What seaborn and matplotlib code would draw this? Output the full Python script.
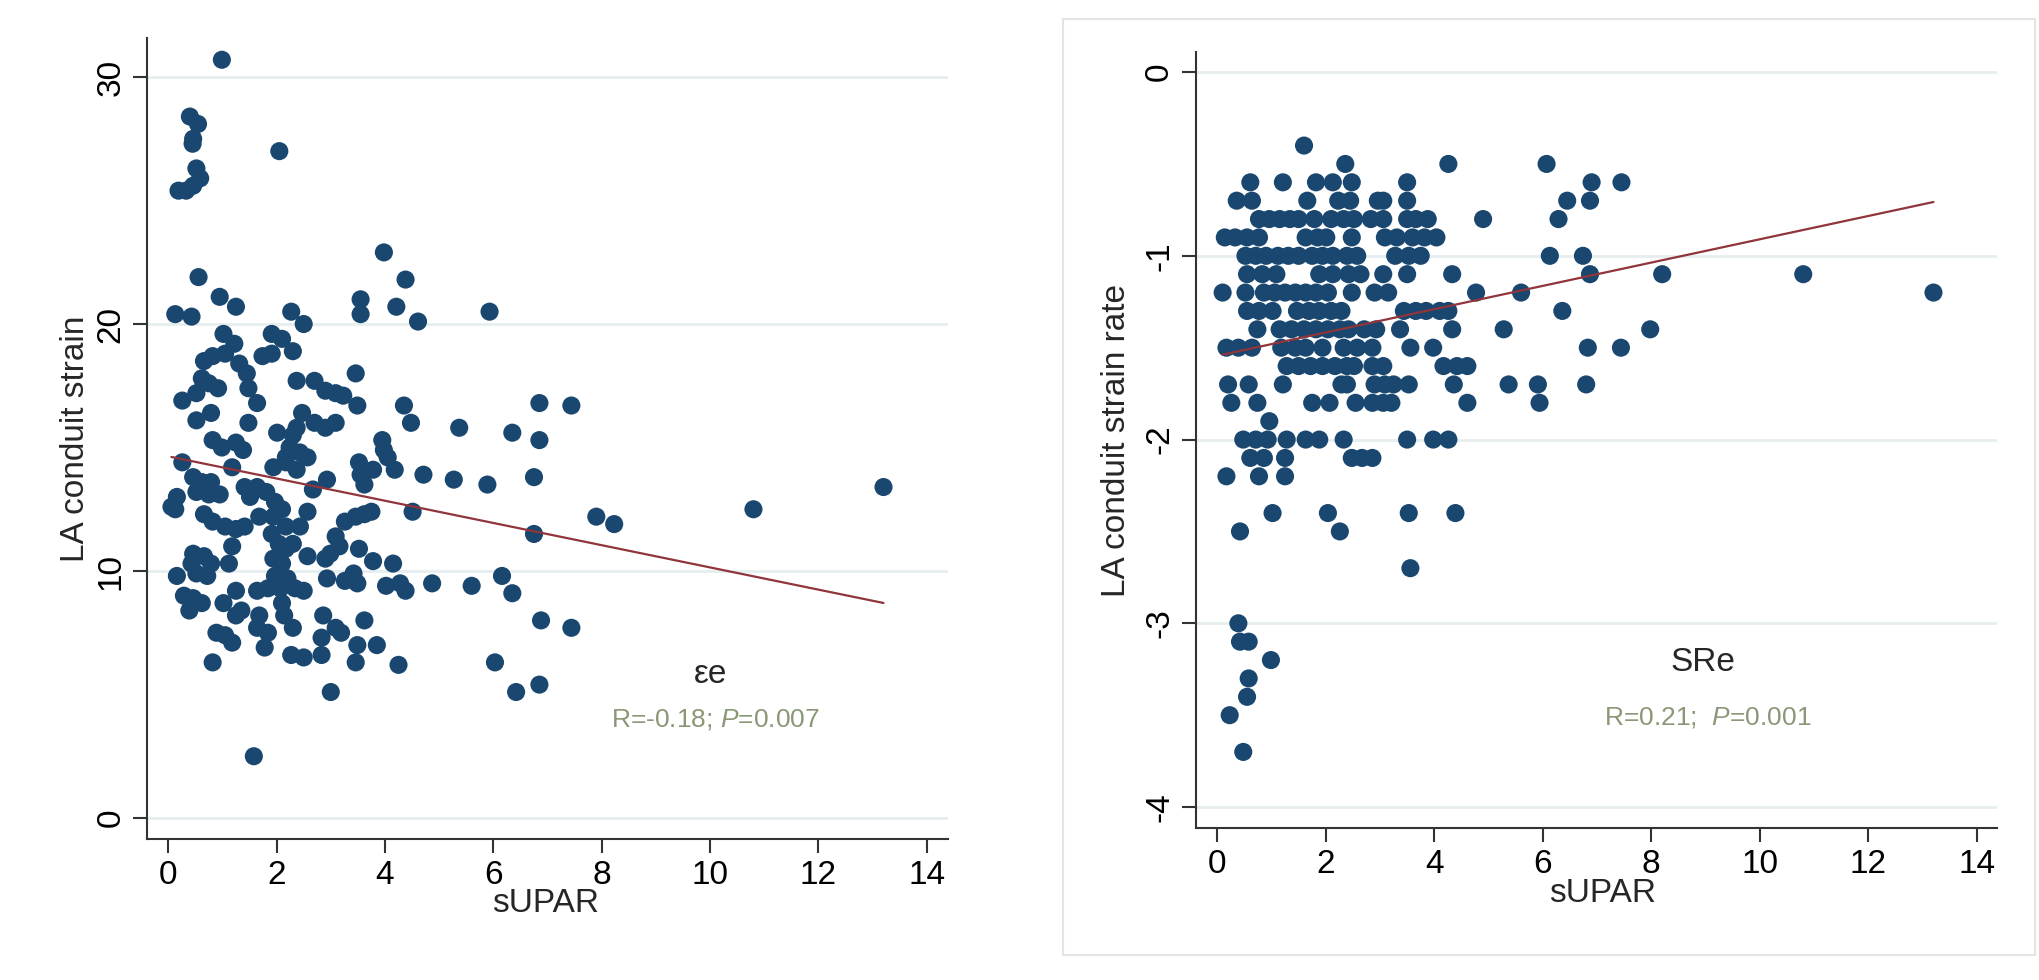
import matplotlib
matplotlib.use("Agg")
import numpy as np
import matplotlib.pyplot as plt
import seaborn as sns
from matplotlib.patches import Rectangle

# left panel: (sUPAR, LA conduit strain)
strain_pairs = [
    (0.99, 30.7), (0.40, 28.4), (0.55, 28.1), (0.46, 27.5), (0.45, 27.3),
    (0.52, 26.3), (0.59, 25.9), (0.46, 25.6), (0.19, 25.4), (0.33, 25.4),
    (2.05, 27.0), (3.98, 22.9), (4.38, 21.8), (0.56, 21.9), (0.95, 21.1),
    (1.25, 20.7), (0.13, 20.4), (0.43, 20.3), (2.27, 20.5), (2.50, 20.0),
    (3.55, 21.0), (3.55, 20.4), (4.21, 20.7), (4.61, 20.1), (5.93, 20.5),
    (1.02, 19.6), (1.22, 19.2), (1.91, 19.6), (2.10, 19.4), (2.30, 18.9),
    (0.66, 18.5), (0.82, 18.7), (1.05, 18.8), (1.31, 18.4), (1.74, 18.7),
    (1.91, 18.8), (3.46, 18.0), (0.62, 17.8), (0.75, 17.6), (0.92, 17.4),
    (1.45, 18.0), (1.48, 17.4), (2.37, 17.7), (2.70, 17.7), (2.90, 17.3),
    (3.09, 17.2), (3.23, 17.1), (0.52, 17.2), (0.26, 16.9), (1.64, 16.8),
    (3.49, 16.7), (4.35, 16.7), (6.85, 16.8), (7.44, 16.7), (0.79, 16.4),
    (0.52, 16.1), (1.48, 16.0), (2.47, 16.4), (2.70, 16.0), (2.90, 15.8),
    (3.09, 16.0), (4.48, 16.0), (5.37, 15.8), (6.35, 15.6), (6.85, 15.3),
    (2.01, 15.6), (2.30, 15.5), (2.37, 15.8), (0.82, 15.3), (0.99, 15.0),
    (1.25, 15.2), (1.38, 14.9), (2.24, 15.0), (2.43, 14.8), (2.17, 14.6),
    (2.57, 14.6), (3.95, 15.3), (3.98, 14.9), (4.05, 14.6), (0.26, 14.4),
    (1.18, 14.2), (1.94, 14.2), (2.17, 14.4), (2.37, 14.1), (3.52, 14.4),
    (3.78, 14.1), (4.18, 14.1), (4.71, 13.9), (5.27, 13.7), (5.89, 13.5),
    (6.75, 13.8), (0.46, 13.8), (0.62, 13.6), (0.79, 13.6), (1.41, 13.4),
    (1.64, 13.4), (1.81, 13.2), (2.93, 13.7), (3.55, 13.9), (3.62, 13.5),
    (2.67, 13.3), (0.52, 13.2), (0.75, 13.1), (0.95, 13.1), (1.51, 13.0),
    (1.97, 12.8), (0.16, 13.0), (0.13, 12.5), (0.06, 12.6), (0.66, 12.3),
    (0.82, 12.0), (1.05, 11.8), (1.25, 11.7), (1.41, 11.8), (1.68, 12.2),
    (1.94, 12.2), (2.10, 12.5), (2.17, 11.8), (2.43, 11.8), (2.57, 12.4),
    (3.26, 12.0), (3.46, 12.2), (3.62, 12.3), (3.75, 12.4), (4.51, 12.4),
    (7.90, 12.2), (8.23, 11.9), (6.75, 11.5), (1.18, 11.0), (1.91, 11.5),
    (2.04, 11.1), (2.17, 10.9), (2.30, 11.1), (3.09, 11.4), (3.16, 11.0),
    (2.99, 10.7), (3.52, 10.9), (0.46, 10.7), (0.66, 10.6), (0.79, 10.3),
    (0.43, 10.3), (1.12, 10.3), (1.94, 10.5), (2.10, 10.3), (2.57, 10.6),
    (2.90, 10.5), (3.78, 10.4), (4.15, 10.3), (0.16, 9.8), (0.52, 9.9),
    (0.72, 9.8), (1.97, 9.8), (2.20, 9.7), (2.93, 9.7), (3.26, 9.6),
    (3.42, 9.9), (3.49, 9.5), (4.02, 9.4), (4.28, 9.5), (4.38, 9.2),
    (4.87, 9.5), (5.60, 9.4), (6.16, 9.8), (6.35, 9.1), (0.29, 9.0),
    (0.46, 8.9), (0.62, 8.7), (1.25, 9.2), (1.02, 8.7), (1.35, 8.4),
    (1.64, 9.2), (1.84, 9.3), (2.07, 9.3), (2.34, 9.3), (2.50, 9.2),
    (2.10, 8.7), (0.39, 8.4), (1.68, 8.2), (1.25, 8.2), (2.14, 8.2),
    (2.86, 8.2), (3.62, 8.0), (6.88, 8.0), (7.44, 7.7), (1.64, 7.7),
    (1.84, 7.5), (2.30, 7.7), (3.09, 7.7), (3.19, 7.5), (0.89, 7.5),
    (1.05, 7.4), (1.18, 7.1), (2.83, 7.3), (1.78, 6.9), (3.49, 7.0),
    (3.85, 7.0), (2.27, 6.6), (2.50, 6.5), (2.83, 6.6), (3.46, 6.3),
    (4.25, 6.2), (0.82, 6.3), (6.03, 6.3), (3.00, 5.1), (6.42, 5.1),
    (6.85, 5.4), (1.58, 2.5), (10.80, 12.5), (13.20, 13.4),
]
strain_supar = np.array([p[0] for p in strain_pairs])
strain_value = np.array([p[1] for p in strain_pairs])

# right panel: sUPAR values on each strain-rate row
sr_supar = []
sr_value = []
def row(sr, xs):
    sr_supar.extend(xs)
    sr_value.extend([sr] * len(xs))

row(-0.4, [1.60])
row(-0.5, [2.36, 4.26, 6.07])
row(-0.6, [0.61, 1.21, 1.82, 2.13, 2.48, 3.50, 6.90, 7.45])
row(-0.7, [0.36, 0.64, 1.66, 2.23, 2.45, 2.96, 3.06, 3.50, 6.45, 6.87])
row(-0.8, [0.77, 0.96, 1.15, 1.34, 1.50, 1.79, 2.10, 2.33, 2.52, 2.83, 3.06,
           3.50, 3.66, 3.88, 4.90, 6.29])
row(-0.9, [0.14, 0.33, 0.55, 0.77, 1.63, 1.85, 2.01, 2.48, 3.09, 3.31, 3.60,
           3.82, 4.04])
row(-1.0, [0.52, 0.71, 0.90, 1.12, 1.31, 1.50, 1.75, 1.94, 2.13, 2.39, 2.58,
           3.28, 3.53, 3.75, 6.13, 6.74])
row(-1.1, [0.55, 0.83, 1.09, 1.88, 2.13, 2.42, 2.64, 3.06, 3.50, 4.33, 6.87,
           8.20, 10.80])
row(-1.2, [0.10, 0.52, 0.86, 1.06, 1.25, 1.44, 1.63, 1.82, 2.04, 2.48, 2.90,
           3.15, 4.77, 5.60, 13.20])
row(-1.3, [0.55, 0.77, 1.02, 1.47, 1.69, 1.88, 2.10, 2.29, 3.44, 3.66, 3.85,
           4.10, 4.26, 6.36])
row(-1.4, [0.74, 1.15, 1.37, 1.60, 1.82, 2.04, 2.26, 2.42, 2.71, 2.93, 3.37,
           4.33, 5.28, 7.98])
row(-1.5, [0.17, 0.39, 0.64, 1.18, 1.44, 1.63, 1.94, 2.33, 2.58, 2.86, 3.56,
           3.98, 6.83, 7.44])
row(-1.6, [1.28, 1.50, 1.72, 1.94, 2.17, 2.39, 2.52, 2.86, 3.06, 4.17, 4.42,
           4.61])
row(-1.7, [0.20, 0.58, 1.21, 2.29, 2.39, 2.90, 3.09, 3.25, 3.53, 4.36, 5.37,
           5.91, 6.80])
row(-1.8, [0.26, 0.74, 1.75, 2.07, 2.55, 2.86, 3.06, 3.21, 4.61, 5.94])
row(-1.9, [0.96])
row(-2.0, [0.48, 0.71, 0.93, 1.28, 1.63, 1.88, 2.33, 3.50, 3.98, 4.26])
row(-2.1, [0.61, 0.86, 1.25, 2.48, 2.67, 2.86])
row(-2.2, [0.17, 0.77, 1.25])
row(-2.4, [1.02, 2.04, 3.53, 4.39])
row(-2.5, [0.42, 2.26])
row(-2.7, [3.56])
row(-3.0, [0.39])
row(-3.1, [0.42, 0.58])
row(-3.2, [0.99])
row(-3.3, [0.58])
row(-3.4, [0.55])
row(-3.5, [0.23])
row(-3.7, [0.48])

# fitted lines as drawn in the picture (intercept, slope)
strain_fit = (14.645, -0.45)
sr_fit = (-1.544, 0.0634)

strain_text = ("\u03b5e", "R=-0.18; $\\mathit{P}$=0.007")
sr_text = ("SRe", "R=0.21;  $\\mathit{P}$=0.001")

sns.set_style("ticks")
plt.rcParams["font.family"] = ["Liberation Sans", "DejaVu Sans"]
plt.rcParams["mathtext.fontset"] = "custom"
plt.rcParams["mathtext.rm"] = "Liberation Sans"
plt.rcParams["mathtext.it"] = "Liberation Sans:italic"
plt.rcParams["axes.unicode_minus"] = False

navy = "#1a476f"
maroon = "#90353b"
grid_c = "#e6eef0"
note_c = "#8a9878"

fig = plt.figure(figsize=(20.4, 9.8), dpi=100)
fig.patches.append(Rectangle((0.521, 0.0255), 0.4765, 0.955, transform=fig.transFigure,
                             fill=False, edgecolor="#e4e4e4", linewidth=1.5))
ax1 = fig.add_axes([0.0721, 0.1439, 0.3926, 0.8173])
ax2 = fig.add_axes([0.5863, 0.1551, 0.3926, 0.7918])


def style(ax, yticks, ylabel, xlim, ylim):
    ax.set_xlim(*xlim)
    ax.set_ylim(*ylim)
    ax.set_xticks(range(0, 15, 2))
    ax.set_yticks(yticks)
    ax.set_yticklabels([f"{t:g}" for t in yticks], rotation=90, va="center")
    ax.yaxis.grid(True, color=grid_c, linewidth=2)
    ax.xaxis.grid(False)
    ax.set_axisbelow(True)
    for s in ["top", "right"]:
        ax.spines[s].set_visible(False)
    for s in ["left", "bottom"]:
        ax.spines[s].set_color("#333333")
        ax.spines[s].set_linewidth(1.5)
    ax.tick_params(axis="both", direction="out", length=10, width=1.5,
                   color="#333333", labelsize=24, labelcolor="black", pad=5)
    ax.set_xlabel("sUPAR", fontsize=24)
    ax.set_ylabel(ylabel, fontsize=24)
    ax.xaxis.label.set_va("center")
    ax.yaxis.label.set_va("center")


sns.scatterplot(x=strain_supar, y=strain_value, ax=ax1, color=navy, s=170,
                edgecolor="none", linewidth=0, zorder=3)
xs = np.array([strain_supar.min(), strain_supar.max()])
ax1.plot(xs, strain_fit[0] + strain_fit[1] * xs, color=maroon, lw=1.6, zorder=4)
style(ax1, [0, 10, 20, 30], "LA conduit strain", (-0.39, 14.39), (-0.85, 31.58))
ax1.xaxis.set_label_coords(0.497, -0.08)
ax1.yaxis.set_label_coords(-0.09, 0.5)
ax1.text(10.0, 5.8, strain_text[0], fontsize=24, ha="center", va="center")
ax1.text(10.1, 3.97, strain_text[1], fontsize=19, ha="center", va="center", color=note_c)

sr_x = np.array(sr_supar)
sns.scatterplot(x=sr_x, y=np.array(sr_value), ax=ax2, color=navy, s=170,
                edgecolor="none", linewidth=0, zorder=3)
xs = np.array([sr_x.min(), sr_x.max()])
ax2.plot(xs, sr_fit[0] + sr_fit[1] * xs, color=maroon, lw=1.6, zorder=4)
style(ax2, [0, -1, -2, -3, -4], "LA conduit strain rate", (-0.39, 14.37), (-4.114, 0.109))
ax2.xaxis.set_label_coords(0.508, -0.084)
ax2.yaxis.set_label_coords(-0.099, 0.5)
ax2.text(8.95, -3.216, sr_text[0], fontsize=24, ha="center", va="center")
ax2.text(9.04, -3.51, sr_text[1], fontsize=19, ha="center", va="center", color=note_c)

fig.savefig("out.png", dpi=100)
